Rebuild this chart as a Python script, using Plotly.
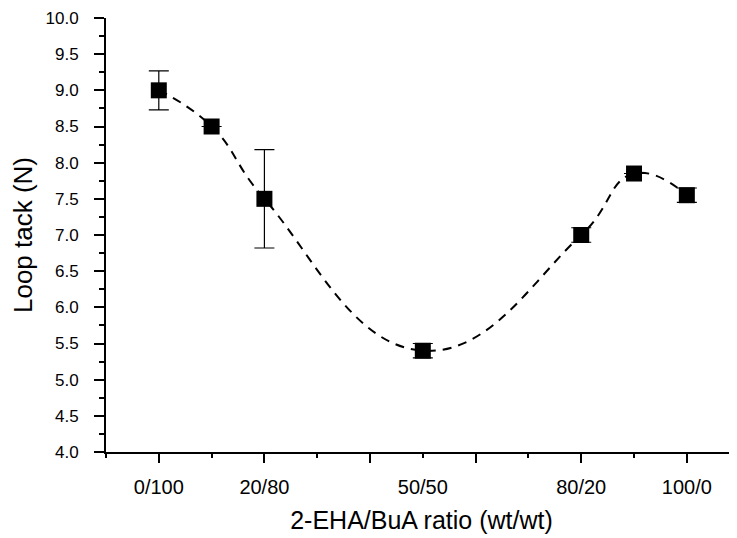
import plotly.graph_objects as go

# Data
ratio_pos = [0, 10, 20, 50, 80, 90, 100]          # wt% of 2-EHA
loop_tack = [9.0, 8.5, 7.5, 5.4, 7.0, 7.85, 7.55]  # N
loop_err = [0.27, 0.0, 0.68, 0.1, 0.1, 0.0, 0.1]

label_pos = [0, 20, 50, 80, 100]
label_text = ["0/100", "20/80", "50/50", "80/20", "100/0"]
major_x = [0, 20, 40, 60, 80, 100]

FONT = "Liberation Sans, Arial, Helvetica, sans-serif"

fig = go.Figure()

# curve (smooth dashed)
fig.add_trace(go.Scatter(
    x=ratio_pos, y=loop_tack, mode="lines",
    line=dict(color="black", width=2, dash="9px,7px", shape="spline", smoothing=1.3),
    hoverinfo="skip", showlegend=False,
))
# markers with error bars
fig.add_trace(go.Scatter(
    x=ratio_pos, y=loop_tack, mode="markers",
    marker=dict(symbol="square", size=16, color="black"),
    error_y=dict(type="data", array=loop_err, visible=True, color="black",
                 thickness=1.2, width=10),
    showlegend=False,
))
# invisible trace bound to label axis
fig.add_trace(go.Scatter(x=[label_pos[0]], y=[loop_tack[0]], xaxis="x2",
                         mode="markers", marker=dict(opacity=0), hoverinfo="skip",
                         showlegend=False))

xr = [-10, 109.5]
fig.update_layout(
    width=729, height=530,
    margin=dict(l=98, r=0, t=10, b=86),
    plot_bgcolor="white", paper_bgcolor="white",
    font=dict(family=FONT, color="black"),
    xaxis=dict(
        range=xr, tickvals=major_x, showticklabels=False, automargin=False,
        ticks="outside", ticklen=9, tickwidth=2, tickcolor="black",
        minor=dict(dtick=10, tick0=0, ticks="outside", ticklen=4, tickwidth=2, tickcolor="black"),
        showline=True, linewidth=2, linecolor="black",
        showgrid=False, zeroline=False,
    ),
    xaxis2=dict(
        range=xr, overlaying="x", side="bottom", automargin=False,
        tickvals=label_pos, ticktext=label_text, ticks="",
        tickfont=dict(size=20), ticklabelstandoff=21,
        showline=False, showgrid=False, zeroline=False,
        title=dict(text="2-EHA/BuA ratio (wt/wt)", font=dict(size=25), standoff=14),
    ),
    yaxis=dict(
        range=[4, 10], dtick=0.5, tick0=4, tickformat=".1f", automargin=False,
        ticks="outside", ticklen=10, tickwidth=2, tickcolor="black",
        minor=dict(dtick=0.25, tick0=4, ticks="outside", ticklen=5, tickwidth=2, tickcolor="black"),
        tickfont=dict(size=17), ticklabelstandoff=12,
        showline=True, linewidth=2, linecolor="black",
        showgrid=False, zeroline=False,
        title=dict(text="Loop tack (N)", font=dict(size=26), standoff=6),
    ),
)

fig.write_html("out.html")
